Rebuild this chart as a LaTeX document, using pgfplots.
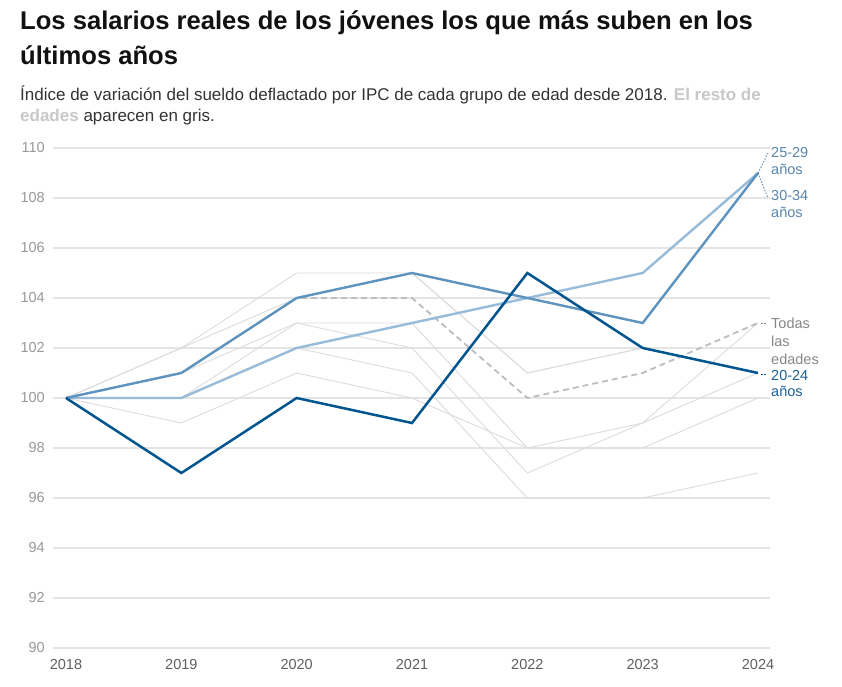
\documentclass[border=0pt]{standalone}
\usepackage{pgfplots}
\pgfplotsset{compat=1.18}
\usepackage{fontspec}
\setmainfont{Liberation Sans}
\definecolor{c20}{HTML}{00558F}
\definecolor{c25}{HTML}{5E93BE}
\definecolor{c30}{HTML}{97BBD9}
\definecolor{cgray}{HTML}{DCDCDC}
\definecolor{cdash}{HTML}{BDBDBD}
\definecolor{gridc}{HTML}{E4E4E4}
\definecolor{lab25}{HTML}{5A86AC}
\definecolor{lab20}{HTML}{1F5F96}
\definecolor{labgray}{HTML}{888888}
\definecolor{lightg}{HTML}{C8C8C8}
\definecolor{titlec}{HTML}{111111}
\definecolor{subc}{HTML}{333333}
\begin{document}
\begin{tikzpicture}
\path[fill=white] (0pt,0pt) rectangle (842pt,686pt);
% title and subtitle
\node[anchor=base west,inner sep=0,text=titlec,font=\fontsize{25.6}{28}\selectfont\bfseries] at (20pt,656pt) {Los salarios reales de los jóvenes los que más suben en los};
\node[anchor=base west,inner sep=0,text=titlec,font=\fontsize{25.6}{28}\selectfont\bfseries] at (20pt,621pt) {últimos años};
\node[anchor=base west,inner sep=0,text=subc,font=\fontsize{17}{20}\selectfont] at (20pt,585pt) {Índice de variación del sueldo deflactado por IPC de cada grupo de edad desde 2018. {\bfseries\color{lightg}El resto de}};
\node[anchor=base west,inner sep=0,text=subc,font=\fontsize{17}{20}\selectfont] at (20pt,564pt) {{\bfseries\color{lightg}edades} aparecen en gris.};
\begin{axis}[
  at={(53pt,38pt)}, anchor=south west,
  scale only axis, width=717pt, height=500pt,
  xmin=2017.8873, xmax=2024.104, ymin=90, ymax=110,
  axis line style={draw=none},
  major tick length=0pt,
  xtick={2018,2019,2020,2021,2022,2023,2024},
  ytick={90,92,94,96,98,100,102,104,106,108,110},
  ymajorgrids, grid style={color=gridc, line width=1.3pt},
  /pgf/number format/assume math mode=true,
  /pgf/number format/1000 sep={},
  xticklabel style={anchor=north, inner sep=0pt, yshift=-11pt, text=gray!75!black, font=\fontsize{14.5}{16}\selectfont},
  yticklabel style={anchor=east, inner sep=0pt, xshift=-8pt, text=gray!80, font=\fontsize{14.5}{16}\selectfont},
  clip=false,
]
% other age groups (grey)
\addplot[cgray, line width=0.9pt] coordinates {(2018,100) (2019,102) (2020,105) (2021,105) (2022,101) (2023,102) (2024,101)};
\addplot[cgray, line width=0.9pt] coordinates {(2018,100) (2019,102) (2020,104) (2021,105) (2022,101) (2023,102) (2024,101)};
\addplot[cgray, line width=0.9pt] coordinates {(2018,100) (2019,101) (2020,103) (2021,103) (2022,98) (2023,99) (2024,103)};
\addplot[cgray, line width=0.9pt] coordinates {(2018,100) (2019,100) (2020,103) (2021,102) (2022,97) (2023,99) (2024,101)};
\addplot[cgray, line width=0.9pt] coordinates {(2018,100) (2019,100) (2020,102) (2021,101) (2022,96) (2023,96) (2024,97)};
\addplot[cgray, line width=0.9pt] coordinates {(2018,100) (2019,99) (2020,101) (2021,100) (2022,98) (2023,98) (2024,100)};
% todas las edades
\addplot[cdash, line width=1.8pt, dash pattern=on 6pt off 4pt] coordinates {(2018,100) (2019,101) (2020,104) (2021,104) (2022,100) (2023,101) (2024,103)};
% 30-34
\addplot[c30, line width=2.4pt] coordinates {(2018,100) (2019,100) (2020,102) (2021,103) (2022,104) (2023,105) (2024,109)};
% 25-29
\addplot[c25, line width=2.4pt] coordinates {(2018,100) (2019,101) (2020,104) (2021,105) (2022,104) (2023,103) (2024,109)};
% 20-24
\addplot[c20, line width=2.5pt] coordinates {(2018,100) (2019,97) (2020,100) (2021,99) (2022,105) (2023,102) (2024,101)};
\end{axis}
% connectors
\draw[lab25, line width=0.8pt, dash pattern=on 1.5pt off 1.5pt] (758pt,512.9pt) -- (768pt,532.9pt);
\draw[lab25, line width=0.8pt, dash pattern=on 1.5pt off 1.5pt] (758pt,512.9pt) -- (768pt,487.9pt);
\draw[labgray, line width=0.8pt, dash pattern=on 1.5pt off 1.5pt] (761pt,362.3pt) -- (767pt,362.3pt);
\draw[c20, line width=0.8pt, dash pattern=on 1.5pt off 1.5pt] (761pt,312.1pt) -- (767pt,312.1pt);
% end labels
\begin{scope}[every node/.style={anchor=base west, inner sep=0, font=\fontsize{14.5}{17}\selectfont}]
\node[text=lab25] at (771pt,528.7pt) {25-29};
\node[text=lab25] at (771pt,511pt) {años};
\node[text=lab25] at (771pt,485.3pt) {30-34};
\node[text=lab25] at (771pt,468pt) {años};
\node[text=labgray] at (771pt,357.7pt) {Todas};
\node[text=labgray] at (771pt,340pt) {las};
\node[text=labgray] at (771pt,321.7pt) {edades};
\node[text=lab20] at (771pt,306pt) {20-24};
\node[text=lab20] at (771pt,289.3pt) {años};
\end{scope}
\end{tikzpicture}
\end{document}
